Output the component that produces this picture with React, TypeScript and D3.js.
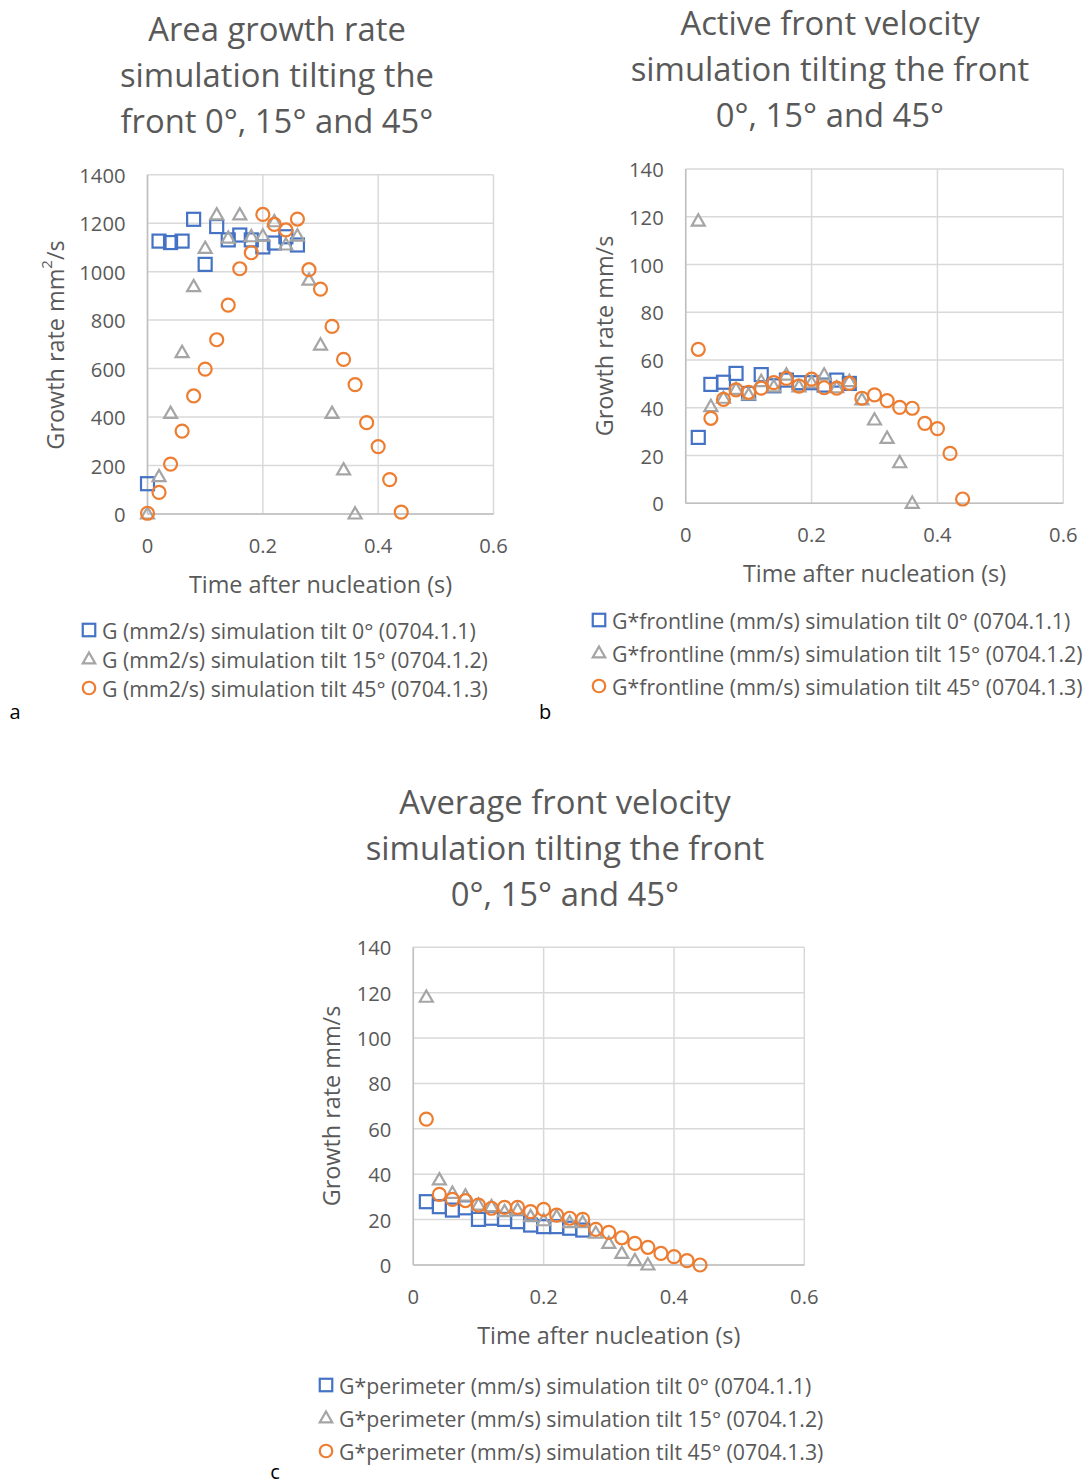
import React from 'react';
import * as d3 from 'd3';

// ---------- Data ----------
// Chart a: area growth rate (mm2/s)
const aTimeTilt0 = [0, 0.02, 0.04, 0.06, 0.08, 0.1, 0.12, 0.14, 0.16, 0.18, 0.2, 0.22, 0.24, 0.26];
const aTilt0 = [125, 1126, 1120, 1126, 1216, 1030, 1186, 1131, 1151, 1131, 1102, 1118, 1144, 1110];
const aTimeTilt15 = [0, 0.02, 0.04, 0.06, 0.08, 0.1, 0.12, 0.14, 0.16, 0.18, 0.2, 0.22, 0.24, 0.26, 0.28, 0.3, 0.32, 0.34, 0.36];
const aTilt15 = [0, 154, 415, 666, 938, 1096, 1234, 1138, 1234, 1144, 1147, 1206, 1110, 1147, 965, 697, 415, 182, 0];
const aTimeTilt45 = [0, 0.02, 0.04, 0.06, 0.08, 0.1, 0.12, 0.14, 0.16, 0.18, 0.2, 0.22, 0.24, 0.26, 0.28, 0.3, 0.32, 0.34, 0.36, 0.38, 0.4, 0.42, 0.44];
const aTilt45 = [3, 89, 206, 342, 487, 598, 719, 862, 1012, 1078, 1236, 1195, 1172, 1217, 1008, 928, 774, 638, 534, 377, 278, 142, 8];

// Chart b: active front velocity (mm/s)
const bTimeTilt0 = [0.02, 0.04, 0.06, 0.08, 0.1, 0.12, 0.14, 0.16, 0.18, 0.2, 0.22, 0.24, 0.26];
const bTilt0 = [27.6, 49.8, 50.7, 54.4, 46, 53.9, 49.2, 51.6, 50.5, 50.5, 49.5, 51.6, 50.2];
const bTimeTilt15 = [0.02, 0.04, 0.06, 0.08, 0.1, 0.12, 0.14, 0.16, 0.18, 0.2, 0.22, 0.24, 0.26, 0.28, 0.3, 0.32, 0.34, 0.36];
const bTilt15 = [118.2, 40.5, 44, 47.7, 45.4, 51, 48.8, 53.7, 48.8, 50.5, 53.7, 48.4, 51, 43.3, 34.9, 27.2, 17, 0];
const bTimeTilt45 = [0.02, 0.04, 0.06, 0.08, 0.1, 0.12, 0.14, 0.16, 0.18, 0.2, 0.22, 0.24, 0.26, 0.28, 0.3, 0.32, 0.34, 0.36, 0.38, 0.4, 0.42, 0.44];
const bTilt45 = [64.5, 35.6, 43.5, 47.5, 46.5, 48.2, 50.5, 52.3, 49.1, 52, 48.4, 48.2, 50.2, 44, 45.4, 43, 40.2, 39.8, 33.5, 31.3, 20.9, 1.8];

// Chart c: average front velocity (mm/s)
const cTimeTilt0 = [0.02, 0.04, 0.06, 0.08, 0.1, 0.12, 0.14, 0.16, 0.18, 0.2, 0.22, 0.24, 0.26];
const cTilt0 = [27.9, 25.7, 24.2, 25.2, 20.1, 20.6, 20.1, 19.1, 17.6, 16.9, 16.9, 16.2, 15.4];
const cTimeTilt15 = [0.02, 0.04, 0.06, 0.08, 0.1, 0.12, 0.14, 0.16, 0.18, 0.2, 0.22, 0.24, 0.26, 0.28, 0.3, 0.32, 0.34, 0.36];
const cTilt15 = [118, 37.5, 31.6, 30.4, 26.4, 25.7, 23.5, 24.2, 21.3, 19.5, 21.3, 18.7, 18.7, 14, 9.5, 5.1, 1.9, 0];
const cTimeTilt45 = [0.02, 0.04, 0.06, 0.08, 0.1, 0.12, 0.14, 0.16, 0.18, 0.2, 0.22, 0.24, 0.26, 0.28, 0.3, 0.32, 0.34, 0.36, 0.38, 0.4, 0.42, 0.44];
const cTilt45 = [64.3, 31.1, 28.9, 28.4, 26.4, 25, 25.4, 25.4, 23.5, 24.5, 22, 20.6, 20.1, 15.7, 14.4, 12, 9.5, 7.8, 5.1, 3.7, 1.9, 0];

const xTicks = [0, 0.2, 0.4, 0.6];
const yTicksA = [0, 200, 400, 600, 800, 1000, 1200, 1400];
const yTicksBC = [0, 20, 40, 60, 80, 100, 120, 140];

const titleA = ['Area growth rate', 'simulation tilting the', 'front 0°, 15° and 45°'];
const titleB = ['Active front velocity', 'simulation tilting the front', '0°, 15° and 45°'];
const titleC = ['Average front velocity', 'simulation tilting the front', '0°, 15° and 45°'];

const legendA = [
  'G (mm2/s) simulation tilt 0° (0704.1.1)',
  'G (mm2/s) simulation tilt 15° (0704.1.2)',
  'G (mm2/s) simulation tilt 45° (0704.1.3)',
];
const legendB = [
  'G*frontline (mm/s) simulation tilt 0° (0704.1.1)',
  'G*frontline (mm/s) simulation tilt 15° (0704.1.2)',
  'G*frontline (mm/s) simulation tilt 45° (0704.1.3)',
];
const legendC = [
  'G*perimeter (mm/s) simulation tilt 0° (0704.1.1)',
  'G*perimeter (mm/s) simulation tilt 15° (0704.1.2)',
  'G*perimeter (mm/s) simulation tilt 45° (0704.1.3)',
];

const xTitle = 'Time after nucleation (s)';

// ---------- Styling ----------
const FONT = "'Open Sans', 'Noto Sans', sans-serif";
const BLUE = '#4472C4';
const GRAY = '#A5A5A5';
const ORANGE = '#ED7D31';
const GRID = '#D9D9D9';
const TEXT = '#595959';
const MARKERS = ['square', 'triangle', 'circle'];
const COLORS = [BLUE, GRAY, ORANGE];

function Marker({ type, x, y, color, size }: any) {
  const s = size;
  if (type === 'square') {
    return <rect x={x - s / 2} y={y - s / 2} width={s} height={s} fill="none" stroke={color} strokeWidth={2.2} />;
  }
  if (type === 'triangle') {
    const h = s * 0.87;
    const p = `${x},${y - h * 0.6} ${x + s / 2},${y + h * 0.4} ${x - s / 2},${y + h * 0.4}`;
    return <polygon points={p} fill="none" stroke={color} strokeWidth={2.2} strokeLinejoin="miter" />;
  }
  return <circle cx={x} cy={y} r={s / 2} fill="none" stroke={color} strokeWidth={2.2} />;
}

function Chart({ cfg }: any) {
  const x = d3.scaleLinear().domain([0, 0.6]).range([cfg.left, cfg.right]);
  const y = d3.scaleLinear().domain([0, cfg.yMax]).range([cfg.bottom, cfg.top]);
  return (
    <g>
      {cfg.title.map((t: string, i: number) => (
        <text key={'t' + i} x={cfg.titleX} y={cfg.titleY + i * 46} textAnchor="middle" dominantBaseline="central"
          fontSize={32.8} fill={TEXT} fontFamily={FONT}>{t}</text>
      ))}
      {cfg.yTicks.map((v: number) => (
        <line key={'gy' + v} x1={cfg.left} x2={cfg.right} y1={y(v)} y2={y(v)} stroke={GRID} strokeWidth={1.5} />
      ))}
      {xTicks.map((v) => (
        <line key={'gx' + v} x1={x(v)} x2={x(v)} y1={cfg.top} y2={cfg.bottom} stroke={GRID} strokeWidth={1.5} />
      ))}
      <line x1={cfg.left} x2={cfg.left} y1={cfg.top} y2={cfg.bottom} stroke="#BFBFBF" strokeWidth={1.5} />
      <line x1={cfg.left} x2={cfg.right} y1={cfg.bottom} y2={cfg.bottom} stroke="#BFBFBF" strokeWidth={1.5} />
      {cfg.yTicks.map((v: number) => (
        <text key={'ty' + v} x={cfg.left - 22} y={y(v)} textAnchor="end" dominantBaseline="central"
          fontSize={20.2} fill={TEXT} fontFamily={FONT}>{v}</text>
      ))}
      {xTicks.map((v) => (
        <text key={'tx' + v} x={x(v)} y={cfg.bottom + 31} textAnchor="middle" dominantBaseline="central"
          fontSize={20.2} fill={TEXT} fontFamily={FONT}>{v}</text>
      ))}
      <text x={(cfg.left + cfg.right) / 2} y={cfg.bottom + 70} textAnchor="middle" dominantBaseline="central"
        fontSize={23.4} fill={TEXT} fontFamily={FONT}>{xTitle}</text>
      <text transform={`translate(${cfg.yTitleX},${cfg.yTitleY}) rotate(-90)`} textAnchor="middle" dominantBaseline="central"
        fontSize={23.4} fill={TEXT} fontFamily={FONT}>
        {cfg.yTitle}
        {cfg.sup ? <tspan dy={-9} fontSize={15}>2</tspan> : null}
        {cfg.sup ? <tspan dy={9}>/s</tspan> : null}
      </text>
      {cfg.series.map((s: any, si: number) => (
        <g key={'s' + si}>
          {s.ys.map((v: number, i: number) => (
            <Marker key={i} type={MARKERS[si]} x={x(s.xs[i])} y={y(v)} color={COLORS[si]} size={13} />
          ))}
        </g>
      ))}
      {cfg.legend.map((t: string, i: number) => (
        <g key={'l' + i}>
          <Marker type={MARKERS[i]} x={cfg.legX} y={cfg.legY + i * cfg.legStep} color={COLORS[i]} size={12.5} />
          <text x={cfg.legX + 13} y={cfg.legY + i * cfg.legStep} dominantBaseline="central"
            fontSize={21.3} fill={TEXT} fontFamily={FONT}>{t}</text>
        </g>
      ))}
    </g>
  );
}

const cfgA = {
  left: 147.5, right: 493.5, top: 174.7, bottom: 514, yMax: 1400, yTicks: yTicksA,
  title: titleA, titleX: 277, titleY: 28,
  yTitle: 'Growth rate mm', sup: true, yTitleX: 55, yTitleY: 345,
  series: [
    { xs: aTimeTilt0, ys: aTilt0 },
    { xs: aTimeTilt15, ys: aTilt15 },
    { xs: aTimeTilt45, ys: aTilt45 },
  ],
  legend: legendA, legX: 89, legY: 630, legStep: 29,
};

const cfgB = {
  left: 685.7, right: 1063.3, top: 169, bottom: 503.3, yMax: 140, yTicks: yTicksBC,
  title: titleB, titleX: 830, titleY: 22,
  yTitle: 'Growth rate mm/s', sup: false, yTitleX: 604, yTitleY: 336,
  series: [
    { xs: bTimeTilt0, ys: bTilt0 },
    { xs: bTimeTilt15, ys: bTilt15 },
    { xs: bTimeTilt45, ys: bTilt45 },
  ],
  legend: legendB, legX: 599, legY: 620, legStep: 33,
};

const cfgC = {
  left: 413.3, right: 804.3, top: 947.3, bottom: 1265, yMax: 140, yTicks: yTicksBC,
  title: titleC, titleX: 565, titleY: 801,
  yTitle: 'Growth rate mm/s', sup: false, yTitleX: 331, yTitleY: 1106,
  series: [
    { xs: cTimeTilt0, ys: cTilt0 },
    { xs: cTimeTilt15, ys: cTilt15 },
    { xs: cTimeTilt45, ys: cTilt45 },
  ],
  legend: legendC, legX: 326, legY: 1385, legStep: 33,
};

export default function App() {
  return (
    <svg width={1086} height={1484} style={{ position: 'absolute', left: 0, top: 0, background: '#fff' }}>
      <rect x={0} y={0} width={1086} height={1484} fill="#fff" />
      <Chart cfg={cfgA} />
      <Chart cfg={cfgB} />
      <Chart cfg={cfgC} />
      <text x={15} y={711} textAnchor="middle" dominantBaseline="central" fontSize={20} fill="#000" fontFamily={FONT}>a</text>
      <text x={545} y={711} textAnchor="middle" dominantBaseline="central" fontSize={20} fill="#000" fontFamily={FONT}>b</text>
      <text x={275} y={1471} textAnchor="middle" dominantBaseline="central" fontSize={20} fill="#000" fontFamily={FONT}>c</text>
    </svg>
  );
}
